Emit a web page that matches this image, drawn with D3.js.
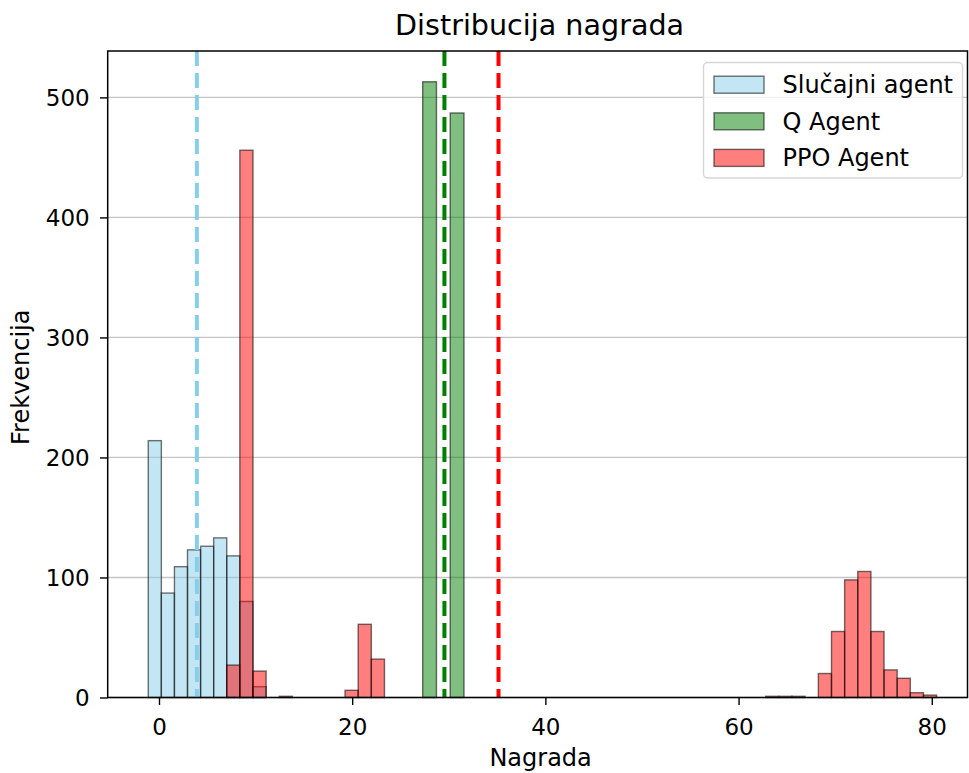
<!DOCTYPE html>
<html>
<head>
<meta charset="utf-8">
<script src="https://cdn.jsdelivr.net/npm/d3@7"></script>
<style>
  body { margin: 0; background: #fff; }
  svg text { font-family: "DejaVu Sans", sans-serif; fill: #000; }
</style>
</head>
<body>
<svg id="chart" width="969" height="773"></svg>
<script>
{
  // left edge of every drawn bin, with one bin width per series
  const randomBinStarts = [-1.11, 0.24, 1.60, 2.95, 4.31, 5.66, 7.02, 8.37, 9.73];
  const randomCounts = [214, 87, 109, 123, 126, 133, 118, 80, 9];
  const randomBinWidth = 1.355;

  const qBinStarts = [27.30, 30.15];
  const qCounts = [513, 487];
  const qBinWidth = 1.425;

  const ppoBinStarts = [7.01, 8.37, 9.73, 12.45, 19.26, 20.62, 21.98, 62.81, 64.17, 65.53,
                        68.26, 69.62, 70.98, 72.34, 73.70, 75.06, 76.42, 77.78, 79.14];
  const ppoCounts = [27, 456, 22, 1, 6, 61, 32, 1, 1, 1, 20, 55, 98, 105, 55, 23, 16, 4, 2];
  const ppoBinWidth = 1.361;

  const agentNames = ['Slučajni agent', 'Q Agent', 'PPO Agent'];
  const agentMeans = [3.92, 29.55, 35.15];

  const xTicks = [0, 20, 40, 60, 80];
  const yTicks = [0, 100, 200, 300, 400, 500];

  const SKYBLUE = '#87CEEB';
  const GREEN = '#008000';
  const RED = '#FF0000';
  const colors = [SKYBLUE, GREEN, RED];

  const svg = d3.select('#chart');
  const plot = { left: 107.7, right: 967.5, top: 51, bottom: 697.5 };

  const x = d3.scaleLinear()
    .domain([-5.31, 83.7])
    .range([plot.left, plot.right]);

  const y = d3.scaleLinear()
    .domain([0, 538.65])
    .range([plot.bottom, plot.top]);

  const series = [
    { starts: randomBinStarts, counts: randomCounts, width: randomBinWidth },
    { starts: qBinStarts, counts: qCounts, width: qBinWidth },
    { starts: ppoBinStarts, counts: ppoCounts, width: ppoBinWidth }
  ];

  drawGrid();
  series.forEach((s, i) => drawBars(s, colors[i]));
  drawMeans();
  drawAxes();
  drawLegend();

  function drawGrid() {
    svg.append('g')
      .selectAll('line')
      .data(yTicks)
      .join('line')
        .attr('x1', plot.left)
        .attr('x2', plot.right)
        .attr('y1', (d) => y(d))
        .attr('y2', (d) => y(d))
        .attr('stroke', '#b0b0b0')
        .attr('stroke-opacity', 0.75)
        .attr('stroke-width', 1.3);
  }

  function drawBars(s, color) {
    const bins = s.starts.map((x0, i) => ({ x0: x0, x1: x0 + s.width, count: s.counts[i] }));

    svg.append('g')
      .selectAll('rect')
      .data(bins)
      .join('rect')
        .attr('x', (d) => x(d.x0))
        .attr('y', (d) => y(d.count))
        .attr('width', (d) => x(d.x1) - x(d.x0))
        .attr('height', (d) => y(0) - y(d.count))
        .attr('fill', color)
        .attr('fill-opacity', 0.5)
        .attr('stroke', '#000')
        .attr('stroke-opacity', 0.55)
        .attr('stroke-width', 1.4);
  }

  function drawMeans() {
    svg.append('g')
      .selectAll('line')
      .data(agentMeans)
      .join('line')
        .attr('x1', (d) => x(d))
        .attr('x2', (d) => x(d))
        .attr('y1', plot.top)
        .attr('y2', plot.bottom)
        .attr('stroke', (d, i) => colors[i])
        .attr('stroke-width', 4)
        .attr('stroke-dasharray', '15,7');
  }

  function drawAxes() {
    const xAxis = d3.axisBottom(x)
      .tickValues(xTicks)
      .tickSize(7.5)
      .tickPadding(13.5);

    const yAxis = d3.axisLeft(y)
      .tickValues(yTicks)
      .tickSize(7.7)
      .tickPadding(10.3);

    const gx = svg.append('g')
      .attr('transform', `translate(0,${plot.bottom})`)
      .call(xAxis);

    const gy = svg.append('g')
      .attr('transform', `translate(${plot.left},0)`)
      .call(yAxis);

    [gx, gy].forEach((g) => {
      g.select('.domain').remove();
      g.selectAll('.tick line').attr('stroke', '#000').attr('stroke-width', 1.4);
      g.selectAll('.tick text')
        .attr('font-family', 'DejaVu Sans')
        .attr('font-size', 23)
        .attr('fill', '#000');
    });

    gy.selectAll('.tick text').attr('dy', '0.36em');

    // frame
    svg.append('rect')
      .attr('x', plot.left)
      .attr('y', plot.top)
      .attr('width', plot.right - plot.left)
      .attr('height', plot.bottom - plot.top)
      .attr('fill', 'none')
      .attr('stroke', '#000')
      .attr('stroke-width', 1.5);

    const midX = (plot.left + plot.right) / 2;
    const midY = (plot.top + plot.bottom) / 2;

    svg.append('text')
      .attr('x', midX + 2)
      .attr('y', 35)
      .attr('text-anchor', 'middle')
      .attr('font-size', 28.6)
      .text('Distribucija nagrada');

    svg.append('text')
      .attr('x', midX + 3)
      .attr('y', 766)
      .attr('text-anchor', 'middle')
      .attr('font-size', 24)
      .text('Nagrada');

    svg.append('text')
      .attr('transform', `translate(29,${midY + 3}) rotate(-90)`)
      .attr('text-anchor', 'middle')
      .attr('font-size', 24)
      .text('Frekvencija');
  }

  function drawLegend() {
    const legend = svg.append('g');

    legend.append('rect')
      .attr('x', 703.5)
      .attr('y', 62.5)
      .attr('width', 259)
      .attr('height', 115.5)
      .attr('rx', 4)
      .attr('fill', '#fff')
      .attr('fill-opacity', 0.8)
      .attr('stroke', '#d6d6d6')
      .attr('stroke-width', 1.4);

    const rows = legend.selectAll('g.row')
      .data(agentNames)
      .join('g')
        .attr('class', 'row')
        .attr('transform', (d, i) => `translate(0,${84.7 + i * 36.6})`);

    rows.append('rect')
      .attr('x', 714)
      .attr('y', -8.5)
      .attr('width', 50)
      .attr('height', 17)
      .attr('fill', (d, i) => colors[i])
      .attr('fill-opacity', 0.5)
      .attr('stroke', '#000')
      .attr('stroke-opacity', 0.55)
      .attr('stroke-width', 1.4);

    rows.append('text')
      .attr('x', 782.5)
      .attr('y', 8.5)
      .attr('font-size', 24)
      .text((d) => d);
  }
}
</script>
</body>
</html>
